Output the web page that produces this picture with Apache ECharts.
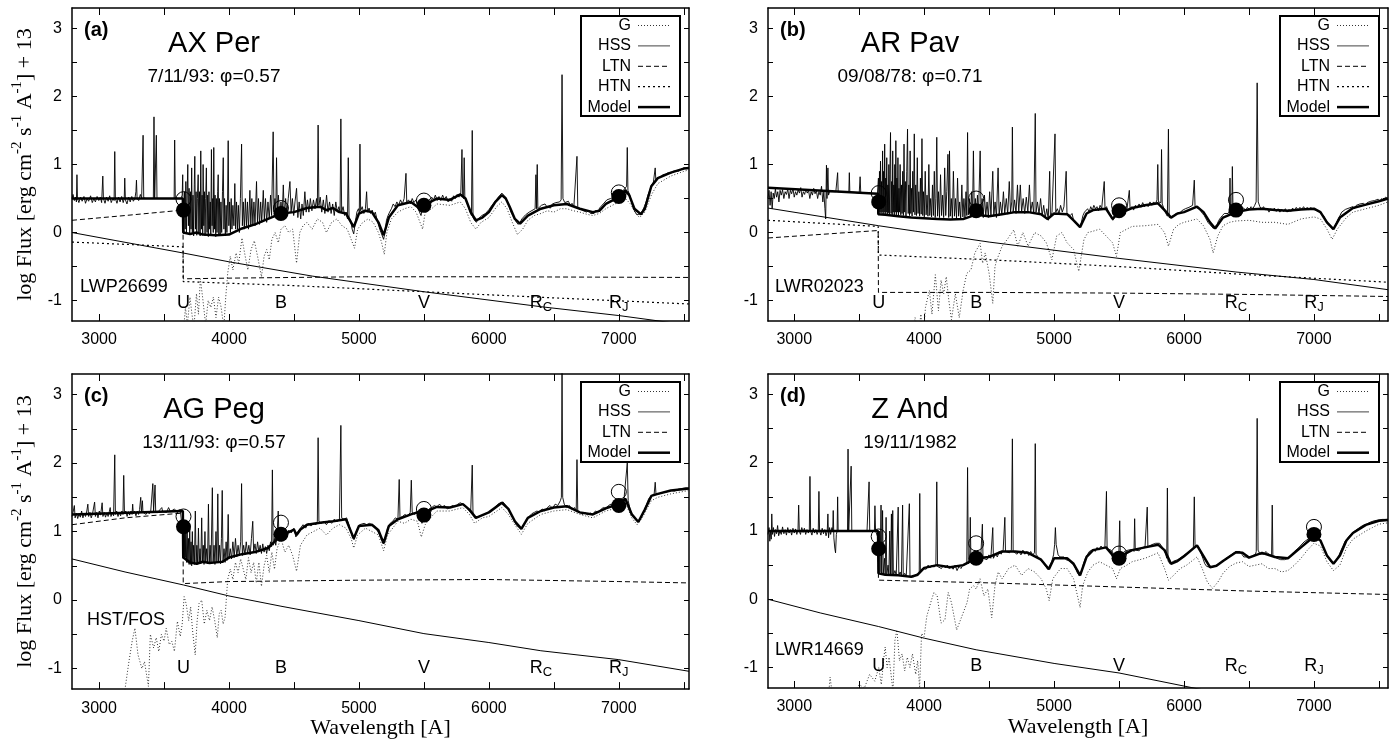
<!DOCTYPE html>
<html><head><meta charset="utf-8">
<script src="https://cdn.jsdelivr.net/npm/echarts@6/dist/echarts.min.js"></script>
<style>html,body{margin:0;padding:0;background:#fff}#c{width:1395px;height:740px}</style>
</head><body><div id="c"></div>
<script>
// ---------- axis ticks / labels ----------
const xTickVals=[3000,3500,4000,4500,5000,5500,6000,6500,7000,7500];
const xLabelVals=[3000,4000,5000,6000,7000];
const yTickVals=[-1,-0.5,0,0.5,1,1.5,2,2.5,3];
const yLabelVals=[-1,0,1,2,3];
const bandNames=['U','B','V','R_C','R_J'];
const bandWaves=[3650,4400,5500,6400,7000];

// ---------- panel (a) AX Per ----------
const obsA=[[2792,0.5],[2800,0.56],[2810,0.47],[2820,0.52],[2826,0.45],[2830,0.85],[2834,0.5],[2845,0.44],[2858,0.52],[2870,0.46],[2884,0.53],[2896,0.43],[2908,0.5],[2920,0.46],[2935,0.54],[2948,0.44],[2960,0.5],[2972,0.45],[2985,0.53],[2998,0.47],[3010,0.52],[3020,0.44],[3029,0.83],[3034,0.5],[3046,0.43],[3058,0.52],[3070,0.46],[3082,0.54],[3094,0.44],[3106,0.5],[3116,0.47],[3121,1.19],[3126,0.5],[3138,0.43],[3150,0.52],[3162,0.45],[3174,0.53],[3186,0.44],[3194,0.5],[3198,0.8],[3203,0.48],[3215,0.42],[3228,0.52],[3240,0.45],[3252,0.53],[3264,0.46],[3276,0.5],[3284,0.6],[3288,0.77],[3293,0.5],[3305,0.47],[3318,0.56],[3328,0.5],[3339,1.43],[3344,0.51],[3360,0.5],[3380,0.5],[3400,0.5],[3418,0.5],[3423,1.7],[3428,0.5],[3437,0.5],[3441,1.43],[3446,0.5],[3470,0.5],[3500,0.5],[3530,0.5],[3560,0.5],[3578,0.5],[3582,1.36],[3587,0.5],[3610,0.5],[3630,0.5],[3640,0.55],
[3644,0.85],[3648,0.15],[3653,-0.02],[3658,0.6],[3663,0.05],[3668,0.75],[3673,0.0],[3678,0.55],[3683,1.0],[3688,0.1],[3693,0.65],[3698,-0.03],[3703,0.6],[3708,0.05],[3713,0.95],[3718,0.0],[3723,0.55],[3728,-0.05],[3733,0.7],[3737,1.12],[3742,0.05],[3747,0.6],[3752,-0.04],[3757,0.5],[3763,0.85],[3768,0.0],[3773,0.6],[3778,-0.05],[3783,1.2],[3788,0.05],[3793,0.55],[3798,-0.04],[3801,1.0],[3806,0.1],[3811,0.6],[3816,-0.05],[3821,0.5],[3826,0.95],[3831,0.0],[3836,0.55],[3841,-0.06],[3846,0.6],[3851,0.05],[3856,0.45],[3860,-0.05],[3865,1.22],[3870,0.1],[3875,0.5],[3879,0.0],[3883,1.25],[3888,0.05],[3893,0.55],[3898,-0.06],[3903,0.5],[3908,0.0],[3913,0.6],[3917,0.85],[3922,-0.05],[3927,0.5],[3932,-0.04],[3938,0.45],[3944,0.0],[3950,0.6],[3956,1.1],[3961,0.05],[3966,0.5],[3972,-0.05],[3978,0.4],[3984,0.0],[3989,0.45],[3994,1.35],[3999,0.1],[4005,0.45],[4011,0.0],[4017,0.5],[4023,0.05],[4030,0.4],[4038,0.1],[4045,0.72],[4051,0.05],[4058,0.45],[4065,0.05],[4072,0.4],[4080,0.0],[4088,0.5],[4097,1.3],[4103,0.1],[4110,0.45],[4118,0.05],[4126,0.5],[4134,0.1],[4142,0.45],[4150,0.05],[4161,0.62],[4168,0.1],[4176,0.5],[4184,0.12],[4192,0.45],[4200,0.1],[4212,0.75],[4219,0.15],[4227,0.5],[4235,0.12],[4244,0.45],[4252,0.15],[4264,0.62],[4272,0.18],[4281,0.5],[4290,0.15],[4300,0.45],[4310,0.2],[4320,0.55],[4328,0.25],[4340,1.48],[4346,0.3],[4354,0.5],[4360,0.25],[4366,1.1],[4372,0.3],[4380,0.55],[4390,0.25],[4400,0.45],[4410,0.28],[4418,0.7],[4426,0.25],[4436,0.5],[4446,0.28],[4456,0.5],[4469,0.75],[4478,0.3],[4488,0.5],[4498,0.25],[4508,0.45],[4520,0.65],[4530,0.22],[4540,0.45],[4552,0.2],[4562,0.42],[4572,0.25],[4584,0.6],[4594,0.3],[4604,0.48],[4615,0.3],[4626,0.5],[4638,0.32],[4650,0.48],[4662,0.35],[4674,0.5],[4680,0.38],[4686,1.58],[4692,0.4],[4702,0.52],[4714,0.3],[4726,0.48],[4738,0.28],[4751,0.55],[4762,0.3],[4774,0.45],[4786,0.28],[4798,0.42],[4810,0.25],[4822,0.45],[4834,0.3],[4846,0.38],[4855,0.3],[4861,1.67],[4867,0.3],[4878,0.38],[4890,0.25],[4902,0.3],[4912,0.2],[4918,1.1],[4924,0.22],[4936,0.18],[4948,0.05],[4960,-0.02],[4972,0.15],[4984,0.3],[4996,0.35],[5003,0.3],[5008,1.3],[5013,0.32],[5025,0.38],[5038,0.28],[5050,0.35],[5059,0.6],[5066,0.3],[5078,0.36],[5090,0.28],[5102,0.33],[5114,0.25],[5126,0.3],[5138,0.2],[5150,0.12],[5160,0.05],[5170,0.0],[5180,-0.05],[5190,-0.1],[5200,0.0],[5212,0.18],[5224,0.25],[5236,0.3],[5250,0.35],[5264,0.42],[5278,0.38],[5292,0.45],[5306,0.4],[5320,0.48],[5334,0.42],[5348,0.5],[5362,0.87],[5368,0.45],[5382,0.48],[5396,0.42],[5410,0.5],[5424,0.44],[5438,0.48],[5452,0.4],[5466,0.3],[5478,0.25],[5490,0.38],[5504,0.42],[5518,0.38],[5532,0.46],[5546,0.44],[5560,0.52],[5574,0.48],[5588,0.55],[5602,0.47],[5616,0.53],[5630,0.47],[5644,0.55],[5658,0.49],[5672,0.53],[5686,0.45],[5700,0.5],[5714,0.46],[5728,0.54],[5742,0.5],[5756,0.56],[5770,0.52],[5784,0.58],[5793,1.22],[5798,0.55],[5805,0.5],[5810,1.1],[5815,0.52],[5828,0.45],[5842,0.38],[5856,0.3],[5866,0.25],[5872,1.5],[5878,0.22],[5890,0.18],[5904,0.15],[5918,0.2],[5932,0.22],[5946,0.25],[5960,0.24],[5974,0.28],[5988,0.3],[6002,0.34],[6016,0.38],[6030,0.4],[6044,0.45],[6058,0.48],[6072,0.52],[6086,0.55],[6100,0.58],[6114,0.55],[6128,0.52],[6142,0.45],[6156,0.38],[6170,0.3],[6184,0.25],[6198,0.2],[6212,0.15],[6226,0.12],[6240,0.15],[6254,0.2],[6268,0.22],[6282,0.26],[6296,0.28],[6310,0.3],[6324,0.32],[6356,0.35],[6362,0.85],[6367,0.35],[6372,1.0],[6377,0.35],[6390,0.36],[6404,0.4],[6418,0.38],[6432,0.42],[6446,0.38],[6460,0.4],[6474,0.36],[6488,0.42],[6502,0.4],[6516,0.44],[6530,0.42],[6544,0.45],[6556,0.48],[6563,2.32],[6570,0.5],[6584,0.44],[6598,0.42],[6612,0.46],[6626,0.4],[6640,0.43],[6654,0.38],[6668,0.4],[6678,1.12],[6684,0.38],[6698,0.35],[6712,0.36],[6726,0.32],[6740,0.34],[6754,0.3],[6768,0.33],[6782,0.28],[6796,0.3],[6810,0.28],[6824,0.33],[6838,0.3],[6852,0.36],[6866,0.38],[6880,0.42],[6894,0.44],[6908,0.48],[6922,0.46],[6936,0.5],[6950,0.48],[6964,0.52],[6978,0.5],[6992,0.55],[7006,0.54],[7020,0.58],[7034,0.62],[7048,0.65],[7060,0.68],[7065,1.25],[7070,0.62],[7084,0.55],[7098,0.45],[7112,0.35],[7126,0.3],[7140,0.26],[7154,0.24],[7168,0.28],[7182,0.32],[7196,0.38],[7210,0.45],[7224,0.55],[7238,0.62],[7252,0.7],[7266,0.74],[7280,0.95],[7285,0.76],[7300,0.8],[7320,0.82],[7340,0.85],[7360,0.86],[7380,0.88],[7400,0.87],[7420,0.9],[7440,0.91],[7460,0.9],[7480,0.93],[7500,0.95],[7520,0.94],[7540,0.96]];
const modelA=[[2792,0.5],[3645,0.5],[3648,0.0],[3700,-0.02],[3750,0.0],[3800,-0.03],[3900,-0.04],[4000,-0.03],[4100,0.06],[4200,0.12],[4300,0.2],[4400,0.28],[4500,0.3],[4600,0.36],[4700,0.38],[4750,0.33],[4800,0.36],[4850,0.3],[4900,0.28],[4960,0.08],[5000,0.28],[5050,0.32],[5100,0.3],[5150,0.15],[5190,-0.04],[5230,0.22],[5300,0.4],[5400,0.45],[5470,0.35],[5500,0.4],[5550,0.45],[5600,0.5],[5700,0.48],[5780,0.56],[5820,0.5],[5860,0.3],[5900,0.18],[5950,0.22],[6000,0.3],[6050,0.45],[6100,0.55],[6130,0.5],[6160,0.38],[6200,0.2],[6240,0.13],[6300,0.25],[6350,0.3],[6400,0.35],[6500,0.4],[6600,0.42],[6700,0.35],[6800,0.3],[6850,0.32],[6900,0.42],[7000,0.52],[7050,0.62],[7080,0.55],[7120,0.35],[7170,0.27],[7200,0.35],[7250,0.68],[7300,0.8],[7400,0.88],[7500,0.94],[7540,0.95]];
const giantA=[[3600,-1.6],[3650,-1.45],[3665,-1.1],[3680,-1.35],[3700,-0.95],[3715,-1.2],[3730,-1.4],[3750,-0.9],[3765,-1.2],[3780,-0.68],[3800,-1.0],[3820,-1.35],[3840,-1.0],[3860,-1.1],[3880,-0.95],[3900,-1.25],[3920,-0.95],[3940,-1.1],[3960,-1.4],[3975,-0.95],[3990,-0.6],[4010,-0.35],[4030,-0.55],[4055,-0.3],[4075,-0.45],[4100,-0.08],[4120,-0.3],[4145,-0.55],[4170,-0.25],[4195,-0.12],[4220,-0.35],[4250,-0.65],[4270,-0.35],[4290,-0.25],[4310,-0.4],[4330,-0.1],[4355,0.0],[4380,-0.15],[4400,0.05],[4430,0.1],[4460,0.0],[4490,0.05],[4520,-0.45],[4545,0.0],[4570,0.1],[4600,0.15],[4640,0.05],[4680,0.2],[4720,0.15],[4750,0.0],[4790,0.15],[4830,0.2],[4870,0.1],[4910,0.05],[4940,-0.1],[4966,-0.23],[4990,0.05],[5030,0.15],[5070,0.2],[5110,0.15],[5150,0.0],[5175,-0.15],[5195,-0.32],[5215,0.0],[5250,0.2],[5300,0.3],[5350,0.35],[5400,0.38],[5440,0.3],[5470,0.15],[5490,0.05],[5510,0.3],[5560,0.35],[5600,0.42],[5700,0.4],[5780,0.45],[5820,0.35],[5860,0.15],[5900,0.05],[5940,0.15],[6000,0.22],[6060,0.38],[6100,0.45],[6140,0.35],[6180,0.15],[6220,-0.03],[6260,0.05],[6300,0.18],[6350,0.25],[6400,0.28],[6450,0.32],[6500,0.3],[6550,0.35],[6600,0.35],[6650,0.32],[6700,0.3],[6750,0.27],[6800,0.25],[6850,0.28],[6900,0.35],[6950,0.4],[7000,0.45],[7050,0.5],[7090,0.42],[7130,0.28],[7160,0.22],[7200,0.3],[7250,0.55],[7300,0.72],[7400,0.83],[7500,0.9],[7540,0.92]];
const hssA=[[2792,0.0],[3646,-0.3],[4000,-0.43],[4640,-0.64],[5500,-0.87],[6400,-1.09],[7000,-1.22],[7310,-1.3],[7540,-1.36]];
const ltnA=[[2792,0.18],[3200,0.25],[3646,0.33],[3648,-0.68],[4000,-0.67],[5000,-0.65],[6000,-0.65],[7540,-0.66]];
const htnA=[[2792,-0.14],[3646,-0.21],[3648,-0.72],[4500,-0.78],[5500,-0.87],[6500,-0.96],[7540,-1.05]];
const photObsA=[[3650,0.33],[4400,0.28],[5500,0.4],[7000,0.53]];
const photModA=[[3650,0.49],[4400,0.36],[5500,0.47],[7000,0.59]];

// ---------- panel (b) AR Pav ----------
const obsB=[[2798,0.5],[2806,0.62],[2814,0.4],[2822,0.6],[2830,0.35],[2838,0.58],[2846,0.5],[2855,0.64],[2864,0.52],[2873,0.6],[2882,0.45],[2891,0.62],[2900,0.55],[2910,0.63],[2920,0.5],[2930,0.6],[2940,0.56],[2950,0.64],[2960,0.5],[2970,0.62],[2980,0.57],[2990,0.65],[3000,0.52],[3010,0.6],[3020,0.55],[3030,0.63],[3040,0.58],[3050,0.66],[3060,0.52],[3070,0.6],[3080,0.56],[3090,0.64],[3100,0.58],[3110,0.62],[3120,0.5],[3130,0.6],[3140,0.55],[3150,0.65],[3160,0.57],[3170,0.62],[3180,0.5],[3190,0.6],[3200,0.55],[3210,0.68],[3220,0.45],[3228,0.6],[3236,0.35],[3242,0.2],[3248,0.99],[3252,0.5],[3259,0.95],[3264,0.55],[3272,0.6],[3280,0.58],[3300,0.6],[3320,0.6],[3330,0.6],[3334,0.88],[3338,0.6],[3360,0.6],[3390,0.59],[3420,0.59],[3424,0.88],[3428,0.59],[3460,0.59],[3500,0.58],[3507,0.82],[3512,0.58],[3550,0.58],[3600,0.57],[3640,0.57],
[3645,0.57],[3648,0.8],[3652,0.27],[3656,0.9],[3660,0.3],[3664,1.05],[3668,0.28],[3672,0.75],[3676,0.3],[3680,1.2],[3684,0.27],[3688,0.9],[3692,0.3],[3696,1.3],[3700,0.26],[3704,0.8],[3708,0.3],[3712,1.1],[3716,0.27],[3720,0.7],[3724,0.29],[3728,1.0],[3732,0.26],[3736,0.85],[3741,1.47],[3745,0.28],[3750,0.75],[3754,0.26],[3758,1.2],[3762,0.3],[3766,0.7],[3770,0.25],[3774,1.0],[3778,0.3],[3782,1.35],[3786,0.26],[3790,0.8],[3794,0.3],[3798,1.1],[3802,0.25],[3806,0.65],[3810,0.3],[3815,1.0],[3820,0.26],[3825,0.7],[3830,0.28],[3835,0.9],[3840,0.25],[3845,1.3],[3850,0.3],[3855,0.75],[3860,0.24],[3866,0.9],[3872,1.52],[3877,0.28],[3882,0.7],[3887,0.25],[3892,1.2],[3897,0.28],[3902,0.65],[3907,0.24],[3912,0.9],[3918,0.3],[3924,1.45],[3929,0.26],[3935,0.7],[3941,0.25],[3947,1.1],[3953,0.28],[3959,0.6],[3965,0.24],[3971,0.8],[3977,0.27],[3983,1.38],[3989,0.25],[3995,0.6],[4001,0.23],[4008,0.9],[4015,0.26],[4022,0.55],[4029,0.24],[4036,1.0],[4043,0.25],[4050,0.5],[4057,0.23],[4064,0.7],[4071,0.25],[4078,0.9],[4085,0.22],[4091,0.5],[4097,1.4],[4103,0.24],[4110,0.6],[4118,0.22],[4126,0.85],[4134,0.25],[4142,0.55],[4150,0.22],[4158,0.95],[4166,0.25],[4174,0.6],[4183,1.15],[4189,0.22],[4195,1.2],[4201,0.24],[4209,0.5],[4217,0.21],[4225,0.9],[4233,0.24],[4241,0.5],[4249,0.21],[4257,0.8],[4265,0.24],[4273,0.45],[4281,0.2],[4290,0.7],[4298,0.23],[4306,0.5],[4314,0.22],[4322,0.6],[4328,0.25],[4334,1.47],[4340,0.26],[4348,0.5],[4356,0.24],[4364,0.6],[4372,0.25],[4379,1.2],[4386,0.26],[4394,0.5],[4402,0.27],[4410,0.55],[4418,0.25],[4431,1.2],[4438,0.27],[4446,0.5],[4455,0.22],[4464,0.55],[4474,0.24],[4484,0.45],[4494,0.22],[4504,0.6],[4514,0.24],[4528,0.9],[4536,0.25],[4546,0.45],[4556,0.22],[4569,0.95],[4577,0.25],[4587,0.45],[4598,0.26],[4610,0.6],[4620,0.28],[4632,0.5],[4643,0.27],[4655,0.75],[4665,0.3],[4674,0.45],[4679,1.55],[4685,0.3],[4696,0.48],[4707,0.28],[4718,0.7],[4728,0.3],[4740,0.7],[4750,0.3],[4762,0.5],[4774,0.28],[4786,0.52],[4798,0.3],[4810,0.7],[4820,0.3],[4832,0.45],[4844,0.28],[4855,1.75],[4861,0.3],[4872,0.45],[4884,0.27],[4896,0.5],[4908,0.25],[4920,0.4],[4932,0.22],[4944,0.35],[4955,0.18],[4966,0.9],[4972,0.22],[4984,0.3],[4996,0.28],[5007,1.45],[5013,0.3],[5025,0.35],[5038,0.28],[5050,0.4],[5063,0.3],[5076,0.38],[5093,0.9],[5099,0.28],[5112,0.3],[5125,0.25],[5138,0.28],[5150,0.18],[5162,0.2],[5174,0.12],[5186,0.1],[5198,0.08],[5210,0.15],[5222,0.25],[5234,0.3],[5246,0.28],[5258,0.35],[5270,0.3],[5282,0.38],[5294,0.33],[5306,0.4],[5318,0.35],[5330,0.38],[5342,0.32],[5354,0.4],[5366,0.35],[5386,0.75],[5392,0.35],[5404,0.38],[5416,0.3],[5428,0.32],[5440,0.25],[5452,0.18],[5464,0.22],[5476,0.28],[5488,0.3],[5500,0.35],[5512,0.3],[5524,0.36],[5536,0.3],[5548,0.38],[5560,0.33],[5579,0.62],[5585,0.35],[5598,0.38],[5612,0.33],[5626,0.4],[5640,0.36],[5654,0.42],[5668,0.37],[5682,0.44],[5696,0.38],[5710,0.42],[5724,0.38],[5738,0.45],[5752,0.4],[5766,0.45],[5780,0.42],[5792,0.48],[5798,1.0],[5803,0.45],[5822,0.44],[5827,1.22],[5832,0.42],[5846,0.35],[5860,0.28],[5872,0.24],[5880,1.52],[5886,0.22],[5898,0.2],[5912,0.24],[5926,0.26],[5940,0.28],[5954,0.3],[5968,0.28],[5982,0.32],[5996,0.3],[6010,0.35],[6024,0.33],[6038,0.37],[6052,0.35],[6066,0.4],[6079,0.77],[6085,0.38],[6100,0.4],[6114,0.35],[6128,0.32],[6142,0.28],[6156,0.25],[6170,0.2],[6184,0.15],[6198,0.12],[6212,0.1],[6226,0.06],[6240,0.08],[6254,0.12],[6268,0.18],[6282,0.22],[6296,0.25],[6310,0.28],[6324,0.3],[6340,0.28],[6350,0.32],[6354,0.8],[6358,0.3],[6368,0.33],[6372,0.97],[6377,0.32],[6390,0.3],[6404,0.33],[6418,0.3],[6432,0.35],[6446,0.33],[6460,0.36],[6474,0.32],[6488,0.37],[6502,0.34],[6516,0.38],[6530,0.35],[6544,0.4],[6555,0.45],[6563,2.2],[6571,0.45],[6584,0.38],[6598,0.34],[6612,0.38],[6626,0.33],[6640,0.36],[6654,0.3],[6668,0.35],[6682,0.32],[6696,0.36],[6710,0.31],[6724,0.35],[6738,0.3],[6752,0.34],[6766,0.31],[6780,0.35],[6794,0.3],[6808,0.34],[6822,0.31],[6836,0.36],[6850,0.32],[6864,0.37],[6878,0.33],[6892,0.37],[6906,0.34],[6920,0.38],[6934,0.34],[6948,0.37],[6962,0.33],[6976,0.37],[6990,0.34],[7004,0.36],[7018,0.33],[7032,0.34],[7046,0.3],[7060,0.28],[7074,0.25],[7088,0.2],[7102,0.15],[7116,0.12],[7130,0.08],[7144,0.05],[7158,0.08],[7172,0.14],[7186,0.2],[7200,0.25],[7214,0.3],[7228,0.28],[7242,0.34],[7256,0.32],[7270,0.36],[7284,0.34],[7298,0.38],[7312,0.35],[7326,0.4],[7340,0.38],[7354,0.42],[7368,0.4],[7382,0.43],[7396,0.4],[7410,0.44],[7424,0.42],[7438,0.46],[7452,0.44],[7466,0.47],[7480,0.45],[7494,0.49],[7508,0.46],[7522,0.5],[7536,0.47],[7550,0.52],[7570,0.5]];
const modelB=[[2798,0.66],[3645,0.57],[3647,0.27],[3700,0.26],[3800,0.24],[3900,0.22],[4000,0.21],[4100,0.2],[4200,0.19],[4300,0.2],[4350,0.23],[4400,0.27],[4450,0.25],[4500,0.24],[4600,0.27],[4700,0.3],[4800,0.3],[4900,0.27],[4950,0.2],[5000,0.28],[5100,0.27],[5150,0.18],[5200,0.08],[5250,0.28],[5300,0.33],[5400,0.35],[5450,0.2],[5500,0.3],[5550,0.32],[5600,0.36],[5700,0.4],[5800,0.43],[5850,0.33],[5900,0.22],[5950,0.28],[6000,0.3],[6100,0.38],[6150,0.3],[6200,0.15],[6240,0.06],[6300,0.22],[6400,0.3],[6500,0.34],[6600,0.35],[6700,0.33],[6800,0.32],[6900,0.34],[7000,0.35],[7050,0.3],[7100,0.15],[7150,0.05],[7200,0.22],[7300,0.36],[7400,0.41],[7500,0.46],[7570,0.5]];
const giantB=[[3900,-1.6],[3930,-1.25],[3955,-1.5],[3975,-1.2],[3990,-1.6],[4010,-1.1],[4040,-0.85],[4060,-1.2],[4086,-0.62],[4110,-1.15],[4130,-0.7],[4150,-0.9],[4170,-0.65],[4190,-1.0],[4210,-1.28],[4240,-0.9],[4270,-1.25],[4300,-0.85],[4328,-0.6],[4360,-0.55],[4390,-0.3],[4431,-0.16],[4450,-0.45],[4470,-0.3],[4500,-0.6],[4528,-1.04],[4545,-0.5],[4560,-0.4],[4600,-0.2],[4640,-0.1],[4690,0.04],[4720,-0.2],[4760,0.0],[4800,-0.2],[4850,0.0],[4900,-0.05],[4940,-0.15],[4983,-0.4],[5020,-0.05],[5060,0.0],[5100,-0.15],[5150,-0.25],[5190,-0.57],[5230,-0.1],[5260,0.0],[5300,0.02],[5350,0.05],[5400,-0.05],[5450,-0.15],[5480,-0.35],[5510,0.0],[5560,0.05],[5600,0.09],[5700,0.1],[5800,0.12],[5850,0.0],[5880,-0.2],[5920,0.05],[5960,0.12],[6000,0.15],[6060,0.18],[6100,0.2],[6150,0.1],[6200,-0.1],[6224,-0.3],[6260,-0.05],[6300,0.1],[6350,0.15],[6400,0.17],[6500,0.18],[6600,0.15],[6700,0.15],[6800,0.12],[6900,0.2],[7000,0.23],[7050,0.2],[7100,0.05],[7140,-0.1],[7180,0.05],[7250,0.22],[7300,0.3],[7400,0.35],[7500,0.4],[7570,0.45]];
const hssB=[[2798,0.36],[3650,0.1],[4500,-0.14],[5500,-0.38],[6400,-0.58],[7000,-0.69],[7570,-0.84]];
const ltnB=[[2798,-0.08],[3646,0.03],[3648,-0.88],[4500,-0.88],[5500,-0.89],[6500,-0.91],[7570,-0.94]];
const htnB=[[2798,0.18],[3646,0.09],[3648,-0.33],[4500,-0.4],[5500,-0.5],[6500,-0.62],[7570,-0.73]];
const photObsB=[[3650,0.45],[4400,0.32],[5500,0.32],[6400,0.33]];
const photModB=[[3650,0.58],[4400,0.5],[5500,0.4],[6400,0.48]];

// ---------- panel (c) AG Peg ----------
const obsC=[[2792,1.22],[2800,1.28],[2810,1.38],[2816,1.2],[2826,1.27],[2836,1.19],[2846,1.26],[2856,1.21],[2866,1.3],[2876,1.2],[2886,1.27],[2896,1.22],[2906,1.3],[2914,1.4],[2920,1.22],[2930,1.28],[2940,1.2],[2950,1.26],[2960,1.24],[2966,1.43],[2972,1.22],[2982,1.28],[2992,1.2],[3002,1.3],[3012,1.24],[3024,1.42],[3030,1.22],[3040,1.28],[3050,1.21],[3060,1.27],[3070,1.22],[3080,1.3],[3086,1.35],[3092,1.22],[3102,1.28],[3112,1.23],[3121,2.12],[3126,1.25],[3136,1.3],[3146,1.22],[3156,1.28],[3166,1.23],[3176,1.3],[3184,1.25],[3190,1.82],[3196,1.26],[3206,1.3],[3216,1.22],[3226,1.29],[3236,1.24],[3246,1.3],[3254,1.25],[3259,1.4],[3264,1.26],[3274,1.3],[3284,1.23],[3294,1.3],[3304,1.25],[3312,1.32],[3321,1.5],[3326,1.28],[3334,1.45],[3338,1.28],[3350,1.3],[3362,1.25],[3374,1.3],[3386,1.26],[3398,1.3],[3409,1.28],[3414,1.7],[3420,1.3],[3426,1.28],[3431,1.68],[3436,1.3],[3448,1.27],[3460,1.3],[3472,1.28],[3483,1.35],[3490,1.29],[3505,1.3],[3520,1.28],[3535,1.35],[3550,1.29],[3565,1.3],[3580,1.33],[3595,1.3],[3610,1.3],[3625,1.32],[3640,1.3],
[3645,1.3],[3648,0.9],[3652,1.1],[3656,0.6],[3660,1.15],[3664,0.62],[3668,1.0],[3673,0.55],[3678,1.05],[3683,0.55],[3688,0.9],[3693,0.52],[3698,1.1],[3703,0.52],[3708,0.85],[3713,0.5],[3718,1.0],[3723,0.55],[3728,0.8],[3734,0.52],[3741,1.3],[3747,0.53],[3753,0.8],[3759,0.52],[3765,1.05],[3771,0.55],[3777,0.75],[3783,0.53],[3790,1.2],[3796,0.55],[3802,0.8],[3808,0.52],[3815,1.0],[3821,0.55],[3828,0.75],[3835,0.53],[3842,1.4],[3848,0.55],[3855,0.8],[3862,0.53],[3872,1.64],[3878,0.55],[3885,0.8],[3892,0.52],[3900,1.0],[3907,0.55],[3914,1.55],[3920,0.56],[3928,0.8],[3935,0.53],[3942,0.9],[3948,1.6],[3954,0.55],[3962,0.75],[3970,0.55],[3978,0.85],[3986,0.58],[3994,1.25],[4000,0.6],[4010,0.75],[4020,0.6],[4030,0.85],[4040,0.62],[4050,0.9],[4060,0.63],[4070,0.8],[4080,0.65],[4090,0.85],[4097,1.7],[4103,0.65],[4113,0.8],[4123,0.66],[4133,0.85],[4143,0.68],[4153,0.8],[4163,0.66],[4173,0.9],[4183,1.15],[4190,0.7],[4200,0.82],[4210,0.68],[4220,0.85],[4230,0.7],[4240,0.8],[4250,0.68],[4260,0.82],[4270,0.7],[4280,0.78],[4290,0.68],[4300,0.8],[4310,0.72],[4320,0.85],[4328,0.78],[4334,1.9],[4340,0.8],[4350,0.9],[4360,0.8],[4370,0.95],[4379,1.3],[4385,0.9],[4395,0.95],[4405,0.92],
[4420,1.0],[4440,0.95],[4460,1.02],[4480,0.98],[4500,1.05],[4515,0.92],[4530,1.0],[4550,1.05],[4570,1.1],[4590,1.05],[4610,1.12],[4630,1.08],[4650,1.12],[4670,1.1],[4680,1.15],[4686,2.37],[4692,1.15],[4710,1.12],[4730,1.15],[4750,1.1],[4770,1.16],[4790,1.12],[4810,1.18],[4830,1.14],[4850,1.18],[4855,1.2],[4861,2.55],[4867,1.2],[4885,1.18],[4905,1.2],[4920,1.12],[4935,1.02],[4950,0.92],[4962,0.88],[4975,0.98],[4990,1.05],[5005,1.1],[5020,1.08],[5040,1.12],[5060,1.1],[5080,1.12],[5100,1.1],[5120,1.08],[5140,1.02],[5160,0.95],[5175,0.88],[5190,0.82],[5205,0.9],[5220,1.05],[5240,1.12],[5260,1.15],[5280,1.2],[5300,1.18],[5310,1.76],[5316,1.2],[5335,1.22],[5355,1.25],[5375,1.22],[5395,1.28],[5403,1.75],[5410,1.28],[5430,1.25],[5450,1.3],[5470,1.22],[5485,1.12],[5500,1.2],[5520,1.28],[5540,1.33],[5560,1.35],[5580,1.38],[5600,1.36],[5620,1.4],[5640,1.36],[5660,1.38],[5680,1.33],[5700,1.35],[5720,1.38],[5740,1.36],[5760,1.4],[5780,1.42],[5800,1.4],[5820,1.38],[5840,1.32],[5860,1.28],[5872,1.97],[5878,1.25],[5895,1.2],[5910,1.18],[5930,1.22],[5950,1.24],[5970,1.26],[5990,1.27],[6010,1.3],[6030,1.32],[6050,1.36],[6070,1.4],[6090,1.42],[6110,1.43],[6130,1.38],[6150,1.32],[6170,1.25],[6190,1.18],[6210,1.1],[6230,1.06],[6250,1.04],[6270,1.1],[6290,1.18],[6310,1.22],[6330,1.26],[6350,1.28],[6370,1.3],[6390,1.28],[6410,1.33],[6430,1.3],[6450,1.35],[6470,1.38],[6490,1.34],[6510,1.4],[6530,1.38],[6550,1.45],[6558,1.5],[6563,3.4],[6568,1.5],[6580,1.4],[6600,1.35],[6620,1.38],[6640,1.32],[6660,1.35],[6672,1.3],[6678,2.05],[6684,1.3],[6700,1.28],[6720,1.25],[6740,1.28],[6760,1.24],[6780,1.27],[6800,1.25],[6820,1.3],[6840,1.28],[6860,1.32],[6880,1.35],[6900,1.34],[6920,1.38],[6940,1.4],[6960,1.38],[6980,1.42],[7000,1.4],[7020,1.45],[7040,1.48],[7055,1.5],[7065,2.0],[7072,1.45],[7090,1.3],[7110,1.22],[7130,1.18],[7150,1.14],[7170,1.2],[7190,1.28],[7210,1.38],[7230,1.48],[7250,1.52],[7272,1.55],[7280,1.72],[7286,1.55],[7310,1.55],[7340,1.57],[7370,1.58],[7400,1.6],[7430,1.59],[7460,1.62],[7490,1.63],[7520,1.64],[7540,1.63]];
const modelC=[[2792,1.25],[3645,1.3],[3648,0.62],[3700,0.55],[3750,0.53],[3800,0.56],[3850,0.54],[3900,0.55],[3950,0.56],[4000,0.62],[4100,0.67],[4200,0.7],[4300,0.76],[4350,0.85],[4400,0.95],[4450,0.98],[4500,1.03],[4520,0.95],[4550,1.03],[4600,1.1],[4700,1.13],[4800,1.15],[4900,1.18],[4960,0.9],[5000,1.08],[5100,1.1],[5150,1.02],[5190,0.83],[5230,1.08],[5300,1.18],[5400,1.25],[5450,1.28],[5485,1.15],[5500,1.2],[5550,1.32],[5600,1.36],[5700,1.35],[5800,1.4],[5850,1.32],[5900,1.2],[5950,1.24],[6000,1.28],[6100,1.42],[6150,1.33],[6200,1.15],[6250,1.04],[6300,1.2],[6400,1.3],[6500,1.35],[6600,1.37],[6700,1.28],[6800,1.25],[6900,1.34],[7000,1.4],[7050,1.48],[7100,1.25],[7150,1.14],[7200,1.32],[7250,1.52],[7300,1.55],[7400,1.6],[7540,1.63]];
const giantC=[[3150,-1.6],[3200,-1.3],[3230,-0.9],[3255,-0.6],[3276,-0.41],[3300,-0.8],[3330,-1.0],[3350,-0.9],[3380,-1.26],[3395,-0.5],[3420,-0.7],[3440,-0.55],[3460,-0.75],[3480,-0.5],[3500,-0.6],[3517,-0.41],[3540,-0.65],[3560,-0.6],[3580,-0.75],[3603,-0.31],[3625,-0.53],[3640,-0.35],[3655,0.05],[3670,-0.05],[3690,-0.3],[3705,-0.1],[3720,-0.45],[3740,-0.8],[3755,-0.3],[3770,-0.05],[3790,0.0],[3810,-0.35],[3830,-0.15],[3850,-0.3],[3870,-0.1],[3890,-0.3],[3910,-0.55],[3925,-0.2],[3940,-0.15],[3955,-0.35],[3970,-0.25],[3990,0.3],[4010,0.45],[4030,0.3],[4050,0.55],[4070,0.4],[4090,0.6],[4110,0.45],[4130,0.3],[4150,0.62],[4170,0.4],[4190,0.55],[4210,0.25],[4230,0.55],[4250,0.2],[4270,0.5],[4290,0.65],[4310,0.4],[4330,0.7],[4350,0.45],[4370,0.75],[4400,0.9],[4430,0.7],[4460,0.8],[4490,0.65],[4520,0.42],[4550,0.8],[4600,0.95],[4650,1.0],[4700,1.05],[4750,0.95],[4800,1.05],[4850,1.1],[4900,1.05],[4940,0.9],[4960,0.76],[4990,0.95],[5050,1.05],[5100,1.0],[5150,0.95],[5190,0.72],[5220,0.95],[5260,1.05],[5300,1.15],[5350,1.12],[5400,1.18],[5450,1.15],[5480,0.92],[5510,1.1],[5550,1.2],[5600,1.3],[5700,1.3],[5800,1.35],[5850,1.25],[5890,1.12],[5950,1.2],[6000,1.22],[6100,1.35],[6150,1.25],[6200,1.1],[6250,0.96],[6300,1.12],[6400,1.25],[6500,1.3],[6600,1.32],[6700,1.25],[6800,1.2],[6900,1.3],[7000,1.35],[7050,1.42],[7100,1.2],[7140,1.1],[7180,1.2],[7250,1.45],[7300,1.5],[7400,1.55],[7540,1.6]];
const hssC=[[2792,0.6],[3200,0.41],[3650,0.22],[4000,0.06],[4400,-0.09],[5000,-0.3],[5500,-0.49],[6000,-0.62],[6400,-0.74],[7000,-0.87],[7540,-1.04]];
const ltnC=[[2792,1.1],[3200,1.2],[3646,1.27],[3648,0.24],[4000,0.27],[5000,0.29],[6000,0.3],[7000,0.27],[7540,0.25]];
const photObsC=[[3650,1.07],[4400,0.96],[5500,1.24],[7000,1.38]];
const photModC=[[3650,1.22],[4400,1.13],[5500,1.33],[7000,1.58]];

// ---------- panel (d) Z And ----------
const obsD=[[2798,0.95],[2806,1.05],[2812,0.85],[2818,1.0],[2823,0.88],[2827,1.25],[2832,0.95],[2840,1.05],[2848,0.92],[2856,1.02],[2864,0.96],[2872,1.08],[2880,0.93],[2890,1.0],[2900,0.95],[2910,1.06],[2920,0.96],[2930,1.02],[2940,0.94],[2950,1.05],[2960,0.97],[2970,1.02],[2980,0.94],[2990,1.04],[3000,0.97],[3010,1.03],[3020,0.95],[3029,1.02],[3034,1.38],[3039,1.0],[3048,0.95],[3058,1.05],[3068,0.98],[3078,1.04],[3088,0.95],[3098,1.02],[3108,0.97],[3116,1.0],[3121,1.8],[3126,1.0],[3136,0.94],[3146,1.04],[3156,0.97],[3166,1.02],[3176,0.95],[3185,1.0],[3190,1.58],[3195,1.0],[3205,0.94],[3215,1.04],[3225,0.96],[3235,1.02],[3245,0.93],[3254,1.0],[3259,1.25],[3264,0.9],[3272,1.05],[3280,0.95],[3290,1.05],[3296,1.0],[3300,1.3],[3305,0.9],[3312,0.75],[3318,0.68],[3324,0.95],[3330,1.0],[3334,1.5],[3338,1.0],[3350,1.0],[3370,1.0],[3390,1.0],[3410,1.0],[3414,2.2],[3419,1.0],[3434,1.0],[3438,1.95],[3443,1.0],[3470,1.0],[3500,1.0],[3530,1.0],[3560,1.0],[3572,1.0],[3576,1.72],[3581,1.0],[3600,1.0],[3617,1.0],[3621,1.37],[3626,1.0],[3640,1.0],
[3645,0.9],[3650,0.38],[3655,1.0],[3660,0.4],[3668,1.38],[3673,0.38],[3680,1.3],[3685,0.37],[3695,0.6],[3700,0.37],[3707,1.2],[3712,0.36],[3722,0.5],[3728,0.35],[3735,1.0],[3740,0.35],[3748,1.25],[3753,0.36],[3758,1.3],[3763,0.35],[3775,0.42],[3785,0.35],[3800,1.35],[3805,0.35],[3815,0.4],[3825,0.34],[3834,1.38],[3839,0.34],[3850,0.38],[3862,0.34],[3875,0.36],[3886,1.4],[3891,0.33],[3905,0.35],[3920,0.33],[3935,0.36],[3950,0.35],[3962,0.38],[3966,1.55],[3971,0.4],[3985,0.45],[4000,0.47],[4015,0.44],[4030,0.5],[4045,0.46],[4060,0.5],[4075,0.47],[4090,0.5],[4097,1.72],[4103,0.48],[4118,0.5],[4133,0.45],[4148,0.5],[4163,0.46],[4178,0.5],[4193,0.45],[4208,0.48],[4223,0.44],[4238,0.5],[4253,0.42],[4268,0.48],[4283,0.45],[4298,0.5],[4313,0.48],[4328,0.52],[4334,1.93],[4340,0.52],[4350,0.55],[4355,1.2],[4360,0.55],[4375,0.58],[4390,0.62],[4405,0.58],[4420,0.63],[4435,0.6],[4448,1.1],[4453,0.6],[4468,0.62],[4483,0.58],[4498,0.65],[4513,0.6],[4528,1.05],[4533,0.6],[4548,0.66],[4563,0.62],[4578,0.7],[4593,0.66],[4608,0.72],[4621,1.2],[4626,0.7],[4641,0.72],[4656,0.68],[4671,0.72],[4679,2.35],[4685,0.7],[4700,0.72],[4715,0.66],[4730,0.7],[4745,0.65],[4760,0.72],[4775,0.66],[4790,0.7],[4805,0.64],[4820,0.7],[4835,0.65],[4849,0.68],[4855,2.28],[4861,0.66],[4876,0.62],[4891,0.6],[4906,0.55],[4921,0.52],[4936,0.48],[4951,0.44],[4966,0.45],[4981,0.55],[4996,0.65],[5004,0.8],[5010,1.05],[5016,0.8],[5031,0.65],[5046,0.62],[5061,0.6],[5076,0.62],[5091,0.58],[5106,0.6],[5121,0.56],[5136,0.54],[5151,0.5],[5166,0.45],[5181,0.38],[5196,0.34],[5211,0.4],[5226,0.52],[5241,0.6],[5256,0.65],[5271,0.7],[5286,0.68],[5301,0.73],[5316,0.7],[5331,0.76],[5346,0.72],[5361,0.78],[5376,0.74],[5391,0.77],[5398,0.75],[5403,1.58],[5408,0.74],[5423,0.76],[5438,0.72],[5453,0.68],[5468,0.62],[5483,0.56],[5498,0.62],[5505,1.15],[5510,0.64],[5525,0.66],[5540,0.7],[5555,0.68],[5570,0.72],[5585,0.7],[5600,0.73],[5615,0.7],[5620,1.18],[5625,0.72],[5640,0.74],[5655,0.71],[5670,0.75],[5685,0.73],[5700,0.77],[5712,0.76],[5717,1.35],[5722,0.77],[5737,0.76],[5752,0.8],[5767,0.78],[5782,0.82],[5797,0.8],[5812,0.82],[5827,0.78],[5842,0.74],[5857,0.68],[5867,0.6],[5872,1.63],[5877,0.56],[5892,0.52],[5907,0.54],[5922,0.56],[5937,0.55],[5952,0.58],[5967,0.6],[5982,0.62],[5997,0.63],[6012,0.66],[6027,0.68],[6042,0.7],[6057,0.73],[6072,0.76],[6079,1.5],[6085,0.78],[6100,0.8],[6115,0.76],[6130,0.68],[6145,0.6],[6160,0.52],[6175,0.48],[6190,0.46],[6205,0.47],[6220,0.46],[6235,0.48],[6250,0.5],[6265,0.52],[6280,0.54],[6295,0.55],[6310,0.58],[6325,0.6],[6340,0.62],[6355,0.64],[6370,0.66],[6385,0.68],[6400,0.7],[6415,0.72],[6430,0.7],[6445,0.66],[6460,0.62],[6475,0.6],[6490,0.62],[6505,0.6],[6520,0.63],[6535,0.62],[6550,0.66],[6556,0.7],[6563,2.65],[6570,0.72],[6585,0.66],[6600,0.68],[6615,0.66],[6630,0.7],[6645,0.67],[6660,0.66],[6674,0.64],[6679,1.38],[6684,0.63],[6699,0.62],[6714,0.6],[6729,0.6],[6744,0.58],[6759,0.6],[6774,0.58],[6789,0.6],[6804,0.6],[6819,0.64],[6834,0.66],[6849,0.7],[6864,0.72],[6879,0.75],[6894,0.78],[6909,0.8],[6924,0.84],[6939,0.86],[6954,0.88],[6969,0.9],[6984,0.92],[6999,0.93],[7014,0.92],[7029,0.9],[7044,0.87],[7059,0.82],[7074,0.75],[7089,0.68],[7104,0.62],[7119,0.58],[7134,0.54],[7149,0.52],[7164,0.54],[7179,0.6],[7194,0.65],[7209,0.72],[7224,0.78],[7239,0.85],[7254,0.88],[7269,0.92],[7284,0.95],[7299,0.97],[7314,1.0],[7329,1.02],[7344,1.04],[7359,1.06],[7374,1.08],[7389,1.1],[7404,1.1],[7419,1.12],[7434,1.13],[7449,1.14],[7464,1.15],[7479,1.15],[7494,1.16],[7509,1.16],[7524,1.17],[7539,1.16],[7554,1.17],[7570,1.17]];
const modelD=[[2798,1.0],[3645,1.0],[3648,0.38],[3700,0.36],[3800,0.35],[3900,0.33],[3950,0.36],[4000,0.46],[4100,0.5],[4200,0.47],[4300,0.5],[4400,0.6],[4500,0.62],[4600,0.7],[4700,0.7],[4800,0.68],[4900,0.58],[4960,0.44],[5000,0.6],[5100,0.6],[5150,0.52],[5200,0.35],[5250,0.62],[5300,0.72],[5400,0.76],[5480,0.58],[5500,0.62],[5600,0.72],[5700,0.76],[5800,0.8],[5850,0.72],[5900,0.52],[5950,0.56],[6000,0.63],[6100,0.79],[6150,0.63],[6200,0.47],[6250,0.49],[6300,0.56],[6400,0.69],[6450,0.68],[6500,0.61],[6600,0.68],[6700,0.62],[6800,0.6],[6900,0.76],[7000,0.92],[7050,0.86],[7100,0.64],[7150,0.52],[7200,0.64],[7250,0.86],[7300,0.97],[7400,1.09],[7500,1.15],[7570,1.16]];
const giantD=[[3260,-1.5],[3276,-1.14],[3300,-1.5],[3400,-1.6],[3450,-1.4],[3500,-1.25],[3540,-1.3],[3580,-1.1],[3620,-1.2],[3650,-1.0],[3670,-1.25],[3690,-0.85],[3700,-0.7],[3715,-1.0],[3730,-0.85],[3760,-1.35],[3775,-0.6],[3790,-0.45],[3810,-0.9],[3830,-0.8],[3850,-1.05],[3870,-0.85],[3890,-1.0],[3910,-0.8],[3935,-1.1],[3950,-0.9],[3965,-1.3],[3980,-0.5],[4000,-0.55],[4020,-0.25],[4050,-0.05],[4075,0.1],[4100,0.05],[4130,-0.35],[4160,-0.3],[4185,0.1],[4210,-0.05],[4250,-0.45],[4280,-0.3],[4300,-0.2],[4330,-0.05],[4350,0.15],[4380,0.2],[4400,0.15],[4430,0.3],[4460,0.05],[4490,0.15],[4520,-0.27],[4545,0.2],[4570,0.4],[4600,0.3],[4650,0.45],[4700,0.5],[4750,0.35],[4800,0.45],[4850,0.4],[4900,0.3],[4940,0.15],[4962,-0.02],[4990,0.3],[5050,0.45],[5100,0.45],[5150,0.3],[5180,0.05],[5200,-0.12],[5220,0.2],[5260,0.4],[5300,0.5],[5350,0.55],[5400,0.5],[5450,0.45],[5480,0.3],[5510,0.45],[5560,0.5],[5600,0.55],[5700,0.6],[5800,0.68],[5850,0.45],[5880,0.28],[5920,0.35],[5970,0.45],[6020,0.5],[6100,0.62],[6140,0.45],[6180,0.25],[6220,0.16],[6260,0.25],[6300,0.38],[6350,0.48],[6400,0.53],[6450,0.55],[6500,0.48],[6550,0.5],[6600,0.52],[6650,0.45],[6700,0.45],[6750,0.4],[6800,0.42],[6850,0.5],[6900,0.6],[6950,0.72],[7000,0.82],[7050,0.78],[7100,0.55],[7150,0.42],[7200,0.5],[7250,0.75],[7300,0.88],[7400,1.0],[7450,1.05],[7500,1.1],[7570,1.12]];
const hssD=[[2798,0.0],[3200,-0.2],[3650,-0.4],[4000,-0.57],[4400,-0.74],[5000,-0.94],[5500,-1.08],[6100,-1.31],[6500,-1.45]];
const ltnD=[[2798,1.0],[3646,1.0],[3648,0.28],[4500,0.24],[5500,0.18],[6500,0.12],[7570,0.07]];
const photObsD=[[3650,0.74],[4400,0.6],[5500,0.6],[7000,0.95]];
const photModD=[[3650,0.92],[4400,0.82],[5500,0.67],[7000,1.06]];

// ---------- layout ----------
const panels=[
 {g:[72,8,617,313],xr:[2792,7540],obs:obsA,model:modelA,giant:giantA,hss:hssA,ltn:ltnA,htn:htnA,po:photObsA,pm:photModA,bandY:-1.05,letter:'(a)',star:'AX Per',date:'7/11/93: φ=0.57',src:'LWP26699',srcDx:8,srcDy:279,yTitle:true,xTitle:false},
 {g:[768,8,620,313],xr:[2798,7570],obs:obsB,model:modelB,giant:giantB,hss:hssB,ltn:ltnB,htn:htnB,po:photObsB,pm:photModB,bandY:-1.05,letter:'(b)',star:'AR Pav',date:'09/08/78: φ=0.71',src:'LWR02023',srcDx:7,srcDy:279,yTitle:false,xTitle:false},
 {g:[72,374,617,316],xr:[2792,7540],obs:obsC,model:modelC,giant:giantC,hss:hssC,ltn:ltnC,htn:null,po:photObsC,pm:photModC,bandY:-1.0,letter:'(c)',star:'AG Peg',date:'13/11/93: φ=0.57',src:'HST/FOS',srcDx:15,srcDy:246,yTitle:true,xTitle:true},
 {g:[768,374,620,314],xr:[2798,7570],obs:obsD,model:modelD,giant:giantD,hss:hssD,ltn:ltnD,htn:null,po:photObsD,pm:photModD,bandY:-0.99,letter:'(d)',star:'Z And',date:'19/11/1982',src:'LWR14669',srcDx:7,srcDy:276,yTitle:false,xTitle:true}
];

const SANS='"Liberation Sans", Arial, Helvetica, sans-serif';
const SERIF='"Liberation Serif", "Times New Roman", serif';
const grids=[],xAxes=[],yAxes=[],series=[],graphics=[];

panels.forEach((p,i)=>{
  grids.push({left:p.g[0],top:p.g[1],width:p.g[2],height:p.g[3],containLabel:false});
  const line={show:true,onZero:false,lineStyle:{color:'#000',width:1.5}};
  xAxes.push({gridIndex:i,type:'value',position:'bottom',min:p.xr[0],max:p.xr[1],axisLine:line,splitLine:{show:false},
    axisTick:{show:true,inside:true,length:7,customValues:xTickVals,lineStyle:{color:'#000',width:1}},
    axisLabel:{show:true,customValues:xLabelVals,margin:11,color:'#000',fontSize:16,fontFamily:SANS,formatter:(v)=>String(v)},
    name:p.xTitle?'Wavelength [A]':'',nameLocation:'middle',nameGap:27,
    nameTextStyle:{fontFamily:SERIF,fontSize:22,color:'#000'}});
  xAxes.push({gridIndex:i,type:'value',position:'top',min:p.xr[0],max:p.xr[1],axisLine:line,splitLine:{show:false},
    axisTick:{show:true,inside:true,length:7,customValues:xTickVals,lineStyle:{color:'#000',width:1}},
    axisLabel:{show:false}});
  yAxes.push({gridIndex:i,type:'value',position:'left',min:-1.3,max:3.3,axisLine:line,splitLine:{show:false},
    axisTick:{show:true,inside:true,length:5,customValues:yTickVals,lineStyle:{color:'#000',width:1}},
    axisLabel:{show:true,customValues:yLabelVals,margin:10,color:'#000',fontSize:16,fontFamily:SANS,formatter:(v)=>String(v)},
    name:p.yTitle?'{b|log Flux [erg cm}{p|-2}{b| s}{p|-1}{b| A}{p|-1}{b|] + 13}':'',
    nameLocation:'middle',nameRotate:90,nameGap:36,
    nameTextStyle:{rich:{b:{fontFamily:SERIF,fontSize:22,color:'#000',lineHeight:26,verticalAlign:'bottom'},
                         p:{fontFamily:SERIF,fontSize:15,color:'#000',lineHeight:15,verticalAlign:'top'}}}});
  yAxes.push({gridIndex:i,type:'value',position:'right',min:-1.3,max:3.3,axisLine:line,splitLine:{show:false},
    axisTick:{show:true,inside:true,length:5,customValues:yTickVals,lineStyle:{color:'#000',width:1}},
    axisLabel:{show:false}});
  const xi=2*i, yi=2*i;
  const L=(name,data,ls,z)=>({name,type:'line',xAxisIndex:xi,yAxisIndex:yi,data,showSymbol:false,symbol:'none',
     lineStyle:ls,z,silent:true,animation:false,clip:true});
  series.push(L('G',p.giant,{color:'#333',width:1,type:[1,2]},2));
  series.push(L('HSS',p.hss,{color:'#000',width:1},3));
  series.push(L('LTN',p.ltn,{color:'#000',width:1,type:[5,3]},3));
  if(p.htn) series.push(L('HTN',p.htn,{color:'#000',width:1.2,type:[2,3]},3));
  series.push(L('obs',p.obs,{color:'#000',width:0.9},4));
  series.push(L('Model',p.model,{color:'#000',width:2.5},5));
  series.push({type:'scatter',xAxisIndex:xi,yAxisIndex:yi,data:p.pm,symbol:'circle',symbolSize:15,
    itemStyle:{color:'rgba(0,0,0,0)',borderColor:'#000',borderWidth:1,opacity:1},z:6,silent:true,animation:false});
  series.push({type:'scatter',xAxisIndex:xi,yAxisIndex:yi,data:p.po,symbol:'circle',symbolSize:15,
    itemStyle:{color:'#000',opacity:1},z:7,silent:true,animation:false});
  series.push({type:'scatter',xAxisIndex:xi,yAxisIndex:yi,
    data:bandWaves.map((w,k)=>[w,p.bandY,bandNames[k]]),symbolSize:1,itemStyle:{color:'rgba(0,0,0,0)',opacity:1},
    z:8,silent:true,animation:false,
    label:{show:true,position:'inside',color:'#000',opacity:1,
      formatter:(pr)=>{const n=pr.data[2];return n.indexOf('_')>0?'{m|'+n.split('_')[0]+'}{s|'+n.split('_')[1]+'}':'{m|'+n+'}';},
      rich:{m:{fontFamily:SANS,fontSize:18,color:'#000',lineHeight:20,verticalAlign:'top'},
            s:{fontFamily:SANS,fontSize:13,color:'#000',lineHeight:13,padding:[9,0,0,0],verticalAlign:'bottom'}}}});

  // annotations
  const [gl,gt,gw,gh]=p.g;
  graphics.push({type:'text',x:gl+12,y:gt+22,style:{text:p.letter,font:'bold 20px '+SANS,fill:'#000',align:'left',verticalAlign:'middle'},z:50});
  graphics.push({type:'text',x:gl+142,y:gt+36,style:{text:p.star,font:'29px '+SANS,fill:'#000',align:'center',verticalAlign:'middle'},z:50});
  graphics.push({type:'text',x:gl+142,y:gt+69,style:{text:p.date,font:'19px '+SANS,fill:'#000',align:'center',verticalAlign:'middle'},z:50});
  graphics.push({type:'text',x:gl+p.srcDx,y:gt+p.srcDy,style:{text:p.src,font:'18px '+SANS,fill:'#000',align:'left',verticalAlign:'middle'},z:50});
  // legend box
  const names=p.htn?['G','HSS','LTN','HTN','Model']:['G','HSS','LTN','Model'];
  const styles={G:{stroke:'#333',lineWidth:1,lineDash:[1,2]},HSS:{stroke:'#444',lineWidth:1},LTN:{stroke:'#000',lineWidth:1,lineDash:[5,3]},
                HTN:{stroke:'#000',lineWidth:1.2,lineDash:[2,3]},Model:{stroke:'#000',lineWidth:2.5}};
  const bx2=gl+gw-9, by=gt+8, bh=names.length*20.4+(names.length===5?-2:-1.6);
  graphics.push({type:'rect',shape:{x:bx2-99,y:by,width:99,height:bh},style:{fill:'#fff',stroke:'#000',lineWidth:2},z:60});
  names.forEach((n,k)=>{
    const yy=by+9.5+k*20.4;
    graphics.push({type:'text',x:bx2-49,y:yy,style:{text:n,font:'16px '+SANS,fill:'#000',align:'right',verticalAlign:'middle'},z:61});
    graphics.push({type:'line',shape:{x1:bx2-42,y1:yy,x2:bx2-10,y2:yy},style:Object.assign({fill:null},styles[n]),z:61});
  });
});

const chart=echarts.init(document.getElementById('c'),null,{renderer:'canvas'});
chart.setOption({animation:false,backgroundColor:'#fff',grid:grids,xAxis:xAxes,yAxis:yAxes,series:series,graphic:graphics});
</script></body></html>
